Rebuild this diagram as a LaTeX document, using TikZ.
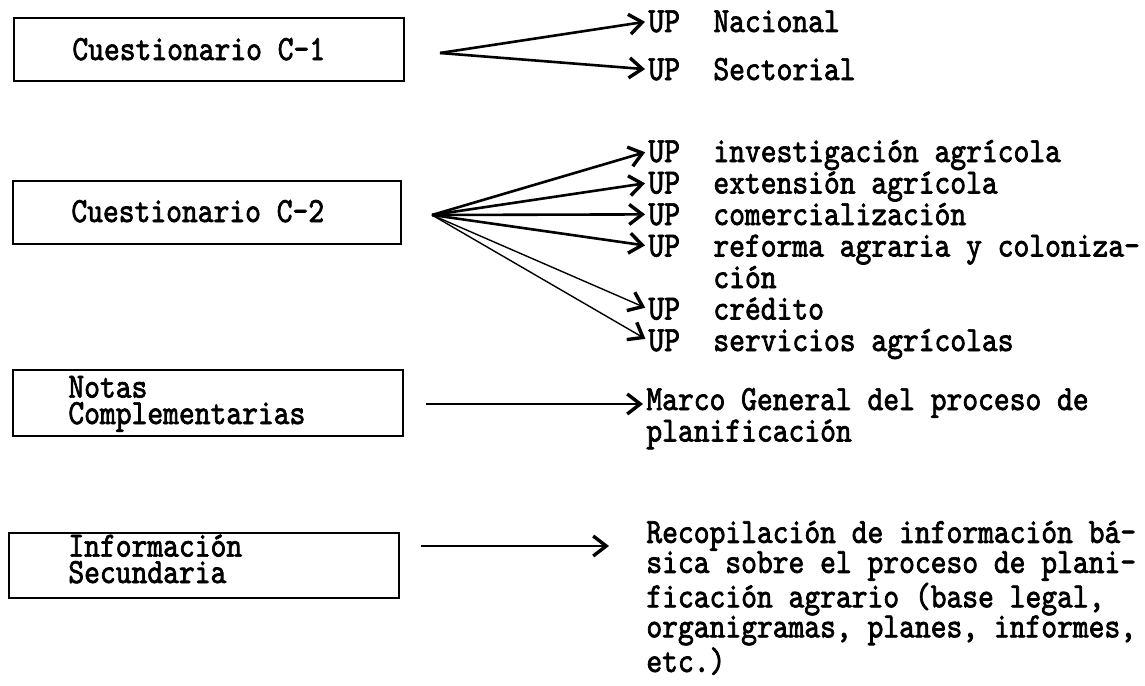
\documentclass[tikz,border=0pt]{standalone}
\usepackage{fontspec}
\setmonofont{lmmono10-regular.otf}[FakeStretch=0.85,FakeBold=2]
\usetikzlibrary{arrows.meta}

\newcommand{\maquina}{\ttfamily\fontsize{17.7}{15.75}\selectfont}
\newcommand{\maquinab}{\ttfamily\fontsize{17.7}{15}\selectfont}
\newcommand{\maquinac}{\ttfamily\fontsize{17.7}{13.2}\selectfont}

\begin{document}
\begin{tikzpicture}[x=0.5pt,y=-0.5pt,
  caja/.style={draw,line width=1.2pt,inner sep=0pt,anchor=north west},
  flecha/.style={line width=1.3pt,shorten >=1.5pt,
    -{Straight Barb[length=6.5pt,width=10pt,line width=1.7pt]}},
  fina/.style={flecha,line width=0.7pt},
  txt/.style={anchor=base west,inner sep=0pt,font=\maquina,align=left},
  txtb/.style={txt,font=\maquinab},
  txtc/.style={txt,font=\maquinac}]
\useasboundingbox (0,0) rectangle (1145,685);

\node[caja,minimum width=195pt,minimum height=31.5pt] (c1) at (13,17) {};
\node[caja,minimum width=194pt,minimum height=31.5pt] (c2) at (12,180) {};
\node[caja,minimum width=195pt,minimum height=33pt] (notas) at (12,369) {};
\node[caja,minimum width=195pt,minimum height=32.5pt] (info) at (8,532) {};

\node[txt] (c1t) at (72,60) {Cuestionario C-1};
\node[txt] (c2t) at (71,222) {Cuestionario C-2};
\node[txtc] (notast) at (68,424) {Notas\\Complementarias};
\node[txtc] (infot) at (68,583) {Información\\Secundaria};

\coordinate (o1) at (440,53);
\coordinate (o2) at (432,215);
\coordinate (n1) at (426,404);
\coordinate (i1) at (421,546);
\coordinate (i2) at (612,546);

\node[txt] (up1) at (648,32) {UP};
\node[txt] (up2) at (648,80) {UP};
\node[txt] at (713,32) {Nacional};
\node[txt] at (713,80) {Sectorial};

\node[txt] (up3) at (648,162) {UP};
\node[txt] (up4) at (648,193.5) {UP};
\node[txt] (up5) at (648,225) {UP};
\node[txt] (up6) at (648,256.5) {UP};
\node[txt] (up7) at (648,319.5) {UP};
\node[txt] (up8) at (648,351) {UP};
\node[txt] at (713,162) {investigación agrícola};
\node[txt] at (713,193.5) {extensión agrícola};
\node[txt] at (713,225) {comercialización};
\node[txt] at (713,288) {reforma agraria y coloniza-\\ción};
\node[txt] at (713,319.5) {crédito};
\node[txt] at (713,351) {servicios agrícolas};

\node[txt] (marco) at (646,441.5) {Marco General del proceso de\\planificación};
\node[txtb] (recop) at (646,672) {Recopilación de información bá-\\sica sobre el proceso de plani-\\ficación agrario (base legal,\\organigramas, planes, informes,\\etc.)};

\draw[flecha] (o1) -- (up1.west);
\draw[flecha] (o1) -- (up2.west);
\foreach \k in {3,...,6}
  \draw[flecha] (o2) -- (up\k.west);
\foreach \k in {7,8}
  \draw[fina] (o2) -- (up\k.west);
\draw[flecha] (n1) -- (n1 -| marco.west);
\draw[flecha] (i1) -- (i2);

\end{tikzpicture}
\end{document}
